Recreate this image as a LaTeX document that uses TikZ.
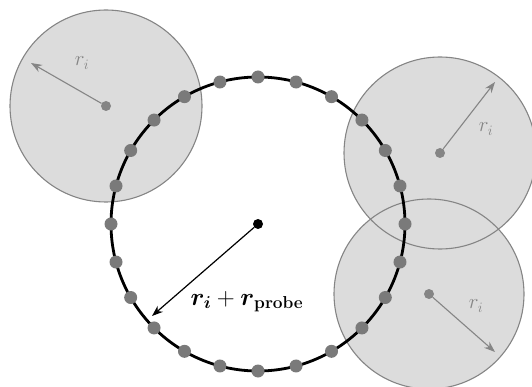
\documentclass[tikz,border=0pt]{standalone}
\usepackage{amsmath}
\usetikzlibrary{arrows.meta}
\definecolor{atomfill}{HTML}{DCDCDC}
\definecolor{atomline}{HTML}{858585}
\definecolor{dotgray}{HTML}{7A7A7A}
\tikzset{
  atom/.style={fill=atomfill,draw=none},
  atomedge/.style={draw=atomline,line width=1.1pt},
  probe/.style={draw=black,line width=2.8pt},
  sdot/.style={circle,fill=dotgray,inner sep=0pt,minimum size=13pt},
  cdot/.style={circle,fill=atomline,inner sep=0pt,minimum size=10pt},
  radarrow/.style={draw=atomline,line width=1.1pt,-{Stealth[length=11pt,width=8pt]}},
  blackarrow/.style={draw=black,line width=1.2pt,-{Stealth[length=11pt,width=8pt]}},
  rlabel/.style={text=atomline,font=\fontsize{22}{26}\selectfont},
  plabel/.style={text=black,font=\fontsize{23}{27}\selectfont,anchor=base}
}
\begin{document}
\begin{tikzpicture}[x=1pt,y=-1pt]
\useasboundingbox (0,0) rectangle (532,387);
% atom fills
\fill[atom] (106,106) circle (96);
\fill[atom] (440,153) circle (96);
\fill[atom] (429,294) circle (95);
% atom outlines
\draw[atomedge] (106,106) circle (96);
\draw[atomedge] (440,153) circle (96);
\draw[atomedge] (429,294) circle (95);
% centres
\node[cdot] (a1) at (106,106) {};
\node[cdot] (a2) at (440,153) {};
\node[cdot] (a3) at (429,294) {};
\coordinate (t1) at (31,63);
\coordinate (t2) at (495,82);
\coordinate (t3) at (495,352);
\draw[radarrow] (a1) -- (t1);
\draw[radarrow] (a2) -- (t2);
\draw[radarrow] (a3) -- (t3);
\node[rlabel] (l1) at (82,63) {$r_i$};
\node[rlabel] (l2) at (486,129) {$r_i$};
\node[rlabel] (l3) at (476,306) {$r_i$};
% probe sphere surface
\draw[probe] (258,224) circle (147);
\foreach \k in {0,...,23}{
  \node[sdot] (s\k) at ({258+147*cos(15*\k)},{224-147*sin(15*\k)}) {};
}
\node[circle,fill=black,inner sep=0pt,minimum size=10pt] (c) at (258,224) {};
\coordinate (tp) at (152,316);
\draw[blackarrow] (c) -- (tp);
\node[plabel] (lp) at (247,305) {$\boldsymbol{r_i} + \boldsymbol{r}_{\mathbf{probe}}$};
\end{tikzpicture}
\end{document}
